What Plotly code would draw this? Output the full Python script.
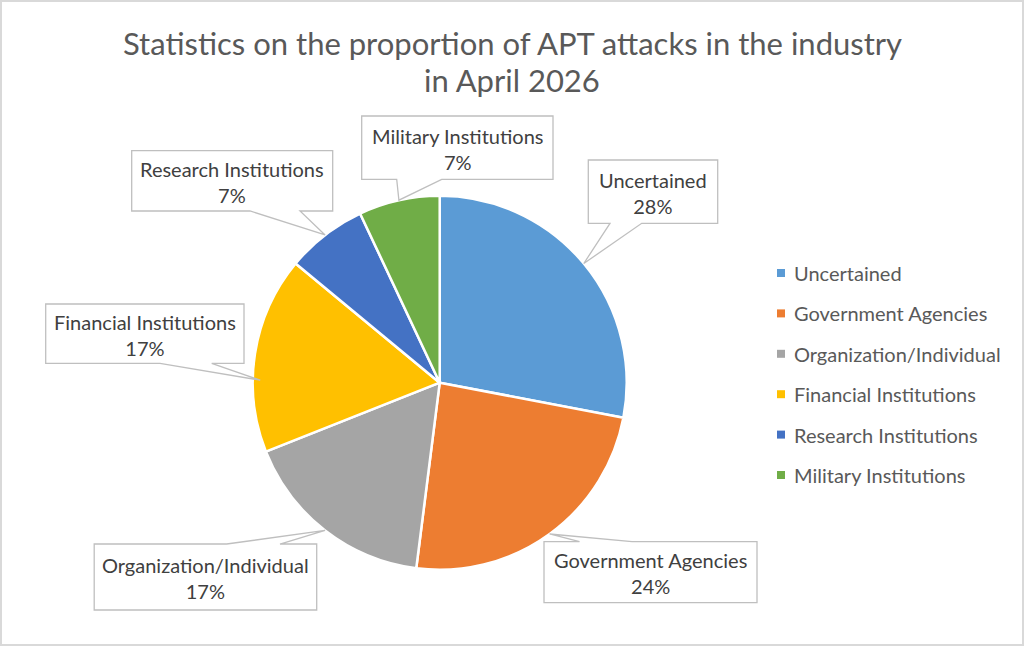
import math
import plotly.graph_objects as go

# ---- data ----
categories = ["Uncertained", "Government Agencies", "Organization/Individual",
              "Financial Institutions", "Research Institutions", "Military Institutions"]
values = [28, 24, 17, 17, 7, 7]
colors = ["#5B9BD5", "#ED7D31", "#A5A5A5", "#FFC000", "#4472C4", "#70AD47"]
title_lines = ["Statistics on the proportion of APT attacks in the industry", "in April 2026"]

W, H = 1024, 646
FONT = "Lato"

# pie geometry (pixels)
CX, CY, R = 439.7, 382.7, 187.0

def px(x):
    return x / W

def py(y):
    return 1 - y / H

fig = go.Figure()
fig.add_trace(go.Pie(
    labels=categories, values=values, sort=False, direction="clockwise", rotation=0,
    marker=dict(colors=colors, line=dict(color="white", width=2.5)),
    textinfo="none", hoverinfo="label+percent", showlegend=False,
    domain=dict(x=[px(CX - R), px(CX + R)], y=[py(CY + R), py(CY - R)]),
))

# callout boxes layout: x0, y0, x1, y1, side of tail, tail base points, tip position in slice, radius factor
callouts = {
    "Uncertained": (588.3, 160, 717.7, 223.3, "bottom", 610, 641.7, 0.5, 1.0),
    "Government Agencies": (544, 541.7, 757, 602.7, "top", 579.5, 632, 0.5, 1.0),
    "Organization/Individual": (94.2, 544, 316.7, 610, "top", 226.7, 280, 0.5, 1.0),
    "Financial Institutions": (45.7, 304, 244, 363.3, "bottom", 160, 211.7, 0.366, 0.96),
    "Research Institutions": (131.7, 150.7, 332.7, 211, "bottom", 250, 300, 0.5, 1.0),
    "Military Institutions": (361.7, 116, 553, 179.3, "bottom", 396.7, 441.7, 0.5, 1.0),
}

total = sum(values)
cum = 0
shapes = []
annotations = []
for name, v in zip(categories, values):
    x0, y0, x1, y1, side, b1, b2, frac, rf = callouts[name]
    theta = 2 * math.pi * (cum + frac * v) / total
    tx = CX + R * rf * math.sin(theta)
    ty = CY - R * rf * math.cos(theta)
    cum += v
    if side == "bottom":
        pts = [(x0, y0), (x1, y0), (x1, y1), (b2, y1), (tx, ty), (b1, y1), (x0, y1)]
    else:
        pts = [(x0, y0), (b1, y0), (tx, ty), (b2, y0), (x1, y0), (x1, y1), (x0, y1)]
    path = "M " + " L ".join(f"{px(a):.5f},{py(b):.5f}" for a, b in pts) + " Z"
    shapes.append(dict(type="path", xref="paper", yref="paper", path=path,
                       fillcolor="white", line=dict(color="#BFBFBF", width=1.3), layer="above"))
    pct = round(v / total * 100)
    annotations.append(dict(x=px((x0 + x1) / 2), y=py((y0 + y1) / 2 + 1), xref="paper", yref="paper",
                            text=f"{name}<br>{pct}%", showarrow=False, xanchor="center", yanchor="middle",
                            font=dict(family=FONT, size=20, color="#404040")))

# legend (drawn manually to match spacing)
LEG_X, LEG_Y0, LEG_DY = 781, 273, 40.4
for i, (name, c) in enumerate(zip(categories, colors)):
    yy = LEG_Y0 + i * LEG_DY
    shapes.append(dict(type="rect", xref="paper", yref="paper",
                       x0=px(LEG_X - 4), x1=px(LEG_X + 4), y0=py(yy + 4), y1=py(yy - 4),
                       fillcolor=c, line=dict(width=0)))
    annotations.append(dict(x=px(792), y=py(yy), xref="paper", yref="paper", text=name,
                            showarrow=False, xanchor="left", yanchor="middle",
                            font=dict(family=FONT, size=20, color="#595959")))

# title (two lines, positioned individually)
for line, yy in zip(title_lines, [43, 80]):
    annotations.append(dict(x=0.5, y=py(yy), xref="paper", yref="paper", text=line,
                            showarrow=False, xanchor="center", yanchor="middle",
                            font=dict(family=FONT, size=31, color="#595959")))

# chart frame
shapes.append(dict(type="rect", xref="paper", yref="paper", x0=px(1), x1=px(W - 1), y0=py(H - 1), y1=py(1),
                   line=dict(color="#D9D9D9", width=2), fillcolor="rgba(0,0,0,0)"))

fig.update_layout(
    width=W, height=H, margin=dict(l=0, r=0, t=0, b=0),
    paper_bgcolor="white", plot_bgcolor="white",
    shapes=shapes, annotations=annotations,
)

fig.write_html("out.html", config={"displayModeBar": False},
               post_script="document.body.style.margin='0px';")
